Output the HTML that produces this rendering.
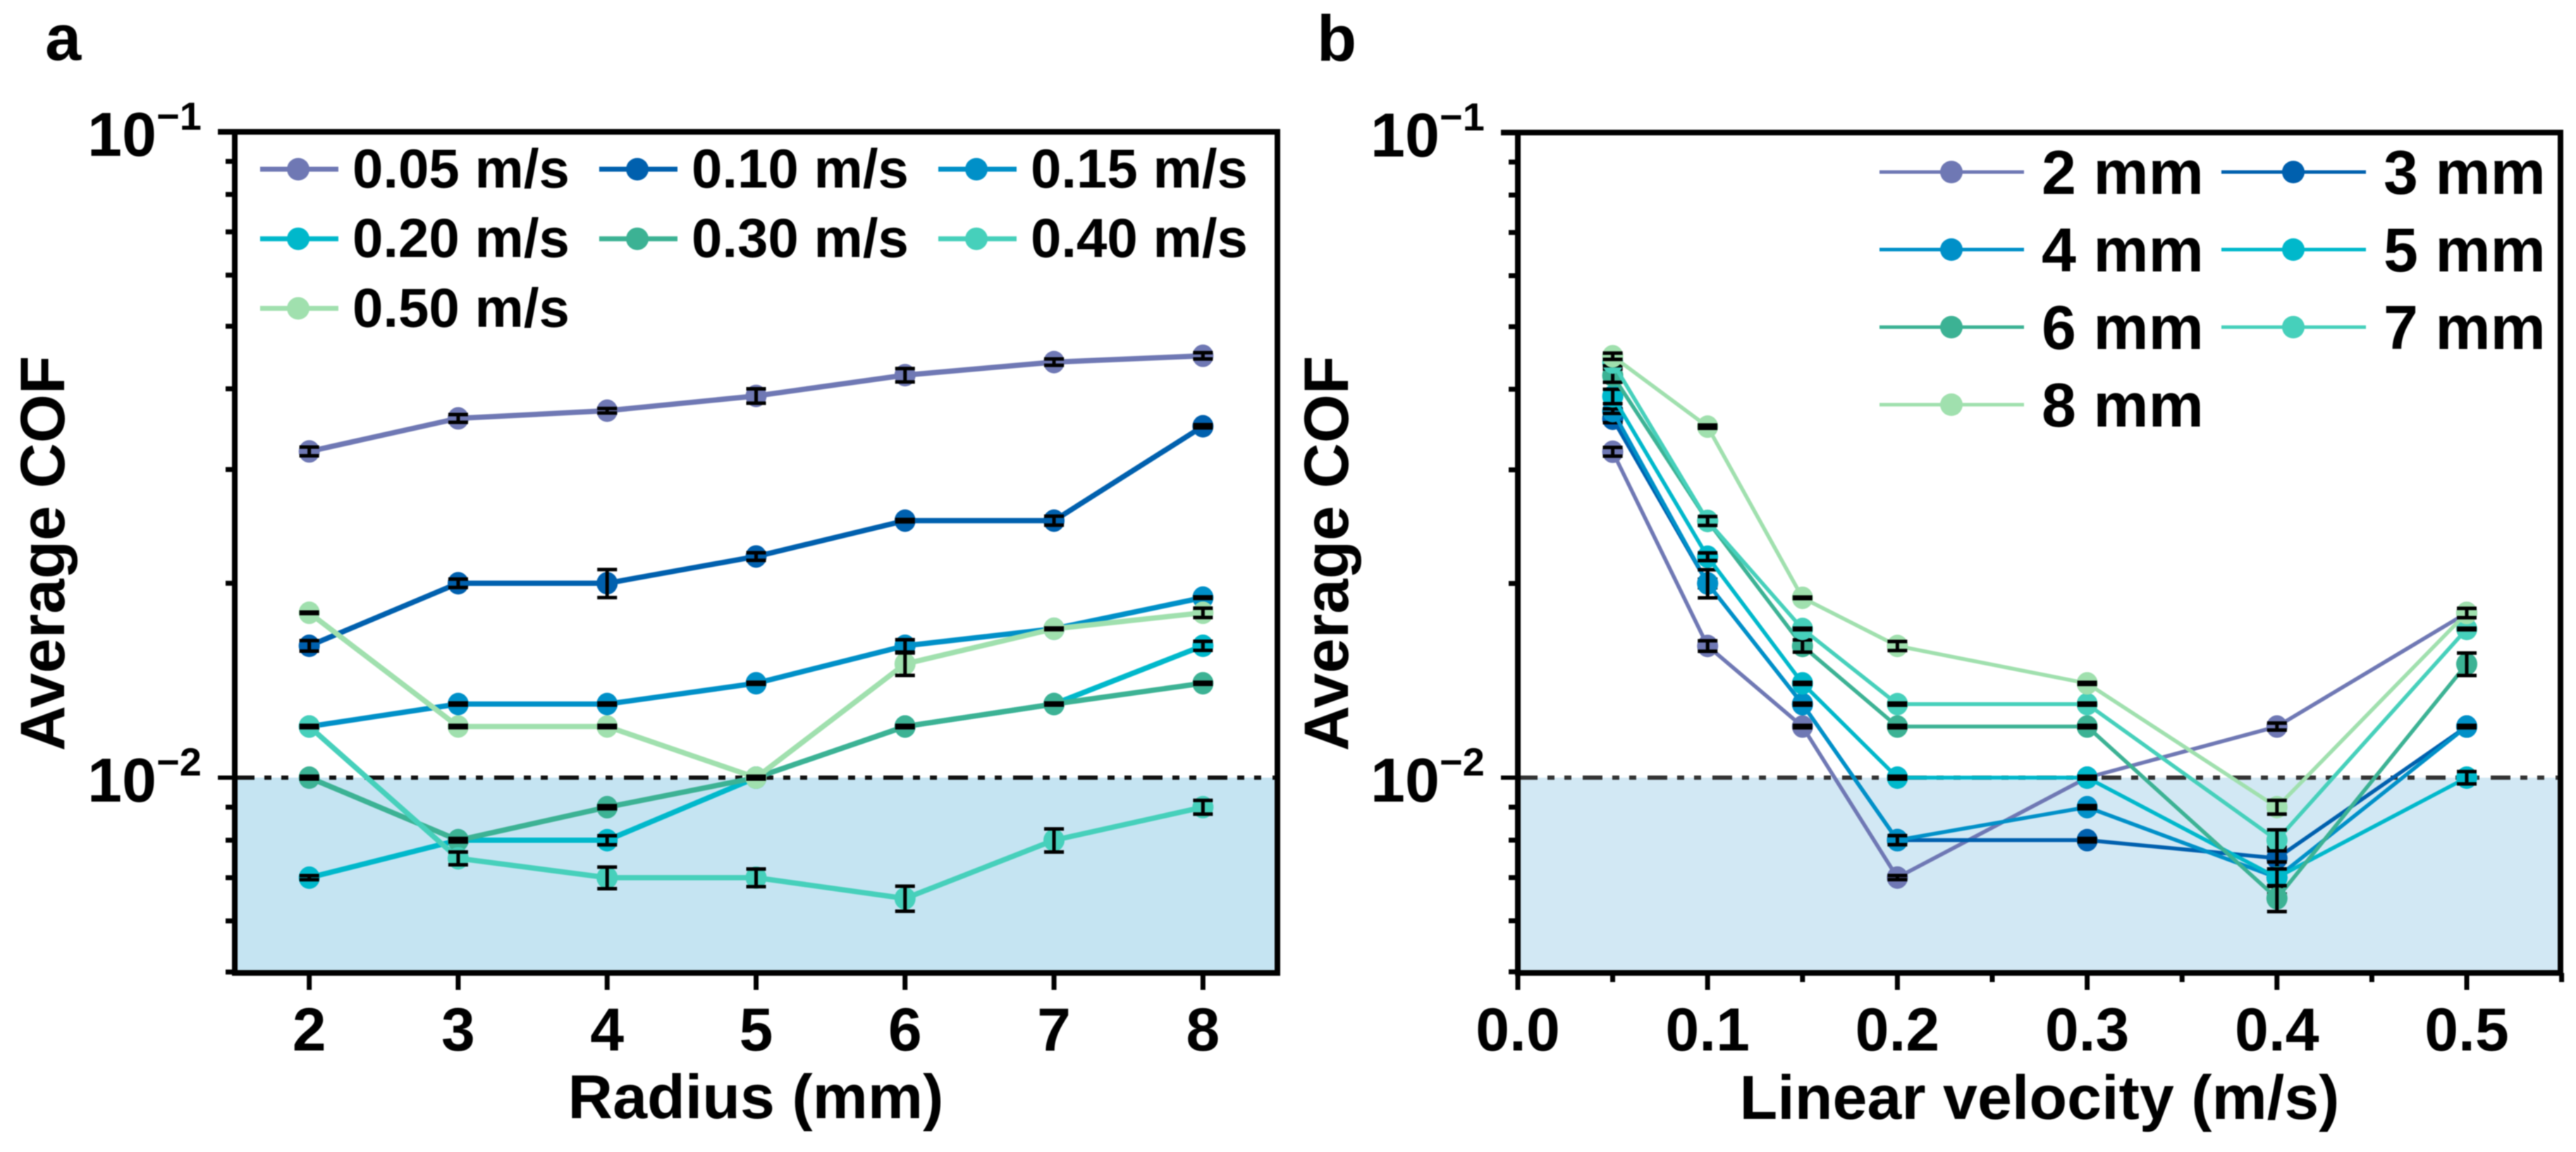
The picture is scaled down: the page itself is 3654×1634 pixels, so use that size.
<!DOCTYPE html>
<html lang="en">
<head>
<meta charset="utf-8">
<title>Average COF vs radius and linear velocity</title>
<style>
html,body{margin:0;padding:0;background:#fff;}
svg{display:block;filter:blur(0.7px);}
text{font-family:"Liberation Sans",Arial,sans-serif;font-weight:700;fill:#000;}
</style>
</head>
<body>
<svg id="figure" xmlns="http://www.w3.org/2000/svg" width="3654" height="1634" viewBox="0 0 3654 1634">
  <rect x="0" y="0" width="3654" height="1634" fill="#ffffff"/>
  <text x="64" y="85" font-size="92">a</text>
  <text x="1868" y="86" font-size="92">b</text>
  <text x="1072" y="1586" font-size="88" text-anchor="middle">Radius (mm)</text>
  <text x="2893" y="1587" font-size="88" text-anchor="middle">Linear velocity (m/s)</text>
  <text transform="translate(91,785) rotate(-90)" font-size="89" text-anchor="middle">Average COF</text>
  <text transform="translate(1912,785) rotate(-90)" font-size="89" text-anchor="middle">Average COF</text>
  <g id="panel-a"></g>
  <g id="panel-b"></g>
</svg>
<script>
// ---- Shared series colours
const seriesColors = ['#6f78b4', '#0060ae', '#0090c8', '#00b8cb', '#3cb294', '#46d0bb', '#a0e0ae'];

// ---- Panel a: COF vs radius, one series per linear velocity
const radiusCategories = [2, 3, 4, 5, 6, 7, 8];
const radiusTickLabels = ['2', '3', '4', '5', '6', '7', '8'];
const velocitySeriesNames = ['0.05 m/s', '0.10 m/s', '0.15 m/s', '0.20 m/s', '0.30 m/s', '0.40 m/s', '0.50 m/s'];
const cofV005 = [0.032, 0.036, 0.037, 0.039, 0.042, 0.044, 0.045];
const cofV010 = [0.016, 0.020, 0.020, 0.022, 0.025, 0.025, 0.035];
const cofV015 = [0.012, 0.013, 0.013, 0.014, 0.016, 0.017, 0.019];
const cofV020 = [0.007, 0.008, 0.008, 0.010, 0.012, 0.013, 0.016];
const cofV030 = [0.010, 0.008, 0.009, 0.010, 0.012, 0.013, 0.014];
const cofV040 = [0.012, 0.0075, 0.007, 0.007, 0.0065, 0.008, 0.009];
const cofV050 = [0.018, 0.012, 0.012, 0.010, 0.015, 0.017, 0.018];
const errV005 = [0.0005, 0.0005, 0.0003, 0.001, 0.001, 0.0005, 0.0005];
const errV010 = [0.0003, 0.0003, 0.001, 0.0003, 0.0001, 0.0004, 0.0002];
const errV015 = [0.00005, 0.00005, 0.00005, 0.00005, 0.00035, 0.00005, 0.00005];
const errV020 = [0.00005, 0.00005, 0.00013, 0.00005, 0.00005, 0.00005, 0.00026];
const errV030 = [0.00005, 0.00005, 0.00005, 0.00005, 0.00005, 0.00005, 0.00005];
const errV040 = [0.00005, 0.00017, 0.00027, 0.00022, 0.00029, 0.00033, 0.00022];
const errV050 = [0.00005, 0.00005, 0.00005, 0.00005, 0.0006, 0.00005, 0.0003];

// ---- Panel b: COF vs linear velocity, one series per radius
const velocityCategories = [0.05, 0.1, 0.15, 0.2, 0.3, 0.4, 0.5];
const velocityMajorTicks = [0, 0.1, 0.2, 0.3, 0.4, 0.5];
const velocityTickLabels = ['0.0', '0.1', '0.2', '0.3', '0.4', '0.5'];
const velocityMinorTicks = [0.05, 0.15, 0.25, 0.35, 0.45, 0.55];
const radiusSeriesNames = ['2 mm', '3 mm', '4 mm', '5 mm', '6 mm', '7 mm', '8 mm'];
const cofR2 = [0.032, 0.016, 0.012, 0.007, 0.010, 0.012, 0.018];
const cofR3 = [0.036, 0.020, 0.013, 0.008, 0.008, 0.0075, 0.012];
const cofR4 = [0.037, 0.020, 0.013, 0.008, 0.009, 0.007, 0.012];
const cofR5 = [0.039, 0.022, 0.014, 0.010, 0.010, 0.007, 0.010];
const cofR6 = [0.042, 0.025, 0.016, 0.012, 0.012, 0.0065, 0.015];
const cofR7 = [0.044, 0.025, 0.017, 0.013, 0.013, 0.008, 0.017];
const cofR8 = [0.045, 0.035, 0.019, 0.016, 0.014, 0.009, 0.018];
const errR2 = [0.0005, 0.0003, 0.00005, 0.00005, 0.00005, 0.00015, 0.00005];
const errR3 = [0.0005, 0.0003, 0.00005, 0.00005, 0.00005, 0.0003, 0.00005];
const errR4 = [0.0003, 0.001, 0.00005, 0.00013, 0.00005, 0.0004, 0.00005];
const errR5 = [0.001, 0.0003, 0.00005, 0.00005, 0.00005, 0.00022, 0.00022];
const errR6 = [0.001, 0.0001, 0.00035, 0.00005, 0.00005, 0.0003, 0.0006];
const errR7 = [0.0005, 0.0004, 0.00005, 0.00005, 0.00005, 0.0003, 0.00005];
const errR8 = [0.0005, 0.0002, 0.00005, 0.00026, 0.00005, 0.00022, 0.0003];

// ---- Shared log axis ticks
const yMajorTicks = [0.1, 0.01];
const yMinorTicks = [0.09, 0.08, 0.07, 0.06, 0.05, 0.04, 0.03, 0.02, 0.009, 0.008, 0.007, 0.006, 0.005];
const yTickExponents = ['\u22121', '\u22122'];
const thresholdValue = 0.01;

const SVG_NS = 'http://www.w3.org/2000/svg';
function make(tag, attrs, parent) {
  const node = document.createElementNS(SVG_NS, tag);
  for (const key in attrs) node.setAttribute(key, attrs[key]);
  parent.appendChild(node);
  return node;
}

function drawPanel(opts) {
  const root = document.getElementById(opts.rootId);
  const L = opts.left, R = opts.right, T = opts.top, B = opts.bottom;
  const xScale = function (v) { return L + (v - opts.xMin) / (opts.xMax - opts.xMin) * (R - L); };
  const yScale = function (v) { return T + (-1 - Math.log10(v)) * opts.decadePx; };

  const fill = make('rect', { x: L, y: yScale(thresholdValue), width: R - L, height: B - yScale(thresholdValue), fill: opts.bandColor }, root);
  
  

  const threshold = make('line', { x1: L, x2: R, y1: yScale(thresholdValue), y2: yScale(thresholdValue), stroke: opts.dashColor, 'stroke-width': 6, 'stroke-dasharray': '28 14 10 14 10 16' }, root);
  
  

  // series lines and markers
  opts.series.forEach(function (values, s) {
    const group = make('g', {}, root);
    
    
    const pts = values.map(function (v, i) { return xScale(opts.categories[i]) + ',' + yScale(v); }).join(' ');
    const line = make('polyline', { points: pts, fill: 'none', stroke: seriesColors[s], 'stroke-width': opts.lineWidth, 'stroke-linejoin': 'round' }, group);
    
    
    values.forEach(function (v, i) {
      const cx = xScale(opts.categories[i]);
      const cy = yScale(v);
      const marker = make('ellipse', { cx: cx, cy: cy, rx: 15, ry: 16, fill: seriesColors[s] }, group);
      
      
      const e = opts.errors[s][i];
      const yTop = yScale(v + e);
      const yBot = yScale(v - e);
      const bar = make('path', {
        d: 'M' + cx + ' ' + yTop + 'V' + yBot + 'M' + (cx - 14) + ' ' + yTop + 'H' + (cx + 14) + 'M' + (cx - 14) + ' ' + yBot + 'H' + (cx + 14),
        fill: 'none', stroke: '#000', 'stroke-width': 5
      }, group);
      
      
    });
  });

  // spines
  const frame = make('rect', { x: L, y: T, width: R - L, height: B - T, fill: 'none', stroke: '#000', 'stroke-width': 8 }, root);
  
  

  // y ticks
  yMajorTicks.forEach(function (v, i) {
    const y = yScale(v);
    const tick = make('line', { x1: L - 24, x2: L, y1: y, y2: y, stroke: '#000', 'stroke-width': i === 0 ? 8 : 6 }, root);
    
    
    const label = make('text', { x: opts.yLabelX, y: y + 34, 'font-size': 88 }, root);
    
    
    const base = make('tspan', {}, label);
    base.textContent = '10';
    const sup = make('tspan', { x: opts.yLabelX + 98, dy: -37, 'font-size': 56 }, label);
    sup.textContent = yTickExponents[i];
  });
  yMinorTicks.forEach(function (v) {
    const y = yScale(v);
    const tick = make('line', { x1: L - 13, x2: L, y1: y, y2: y, stroke: '#000', 'stroke-width': 7 }, root);
    
    
  });

  // x ticks
  opts.xTicks.forEach(function (v, i) {
    const x = xScale(v);
    const tick = make('line', { x1: x, x2: x, y1: B, y2: B + 24, stroke: '#000', 'stroke-width': 7 }, root);
    
    
    const label = make('text', { x: x, y: 1490, 'font-size': 86, 'text-anchor': 'middle' }, root);
    
    
    label.textContent = opts.xTickLabels[i];
  });
  opts.xMinor.forEach(function (v) {
    const x = xScale(v);
    const tick = make('line', { x1: x, x2: x, y1: B, y2: B + 13, stroke: '#000', 'stroke-width': 7 }, root);
    
    
  });

  // legend
  const lg = opts.legend;
  const legend = make('g', {}, root);
  
  
  opts.names.forEach(function (name, s) {
    const col = s % lg.cols;
    const row = Math.floor(s / lg.cols);
    const x0 = lg.x + col * lg.colStep;
    const y0 = lg.y + row * lg.rowStep;
    const entry = make('g', {}, legend);
    
    
    make('line', { x1: x0, x2: x0 + lg.lineLen, y1: y0, y2: y0, stroke: seriesColors[s], 'stroke-width': lg.lineWidth }, entry);
    make('ellipse', { cx: x0 + lg.markerDx, cy: y0, rx: 16, ry: 16, fill: seriesColors[s] }, entry);
    const text = make('text', { x: x0 + lg.textDx, y: y0 + lg.baseDy, 'font-size': lg.fontSize }, entry);
    text.textContent = name;
  });
}

drawPanel({
  rootId: 'panel-a', left: 333, right: 1812, top: 187, bottom: 1380, decadePx: 916,
  xMin: 1.5, xMax: 8.5, categories: radiusCategories,
  series: [cofV005, cofV010, cofV015, cofV020, cofV030, cofV040, cofV050],
  errors: [errV005, errV010, errV015, errV020, errV030, errV040, errV050],
  names: velocitySeriesNames, xTicks: radiusCategories, xTickLabels: radiusTickLabels, xMinor: [],
  lineWidth: 7.5, bandColor: '#c5e4f2', dashColor: '#111111', yLabelX: 124,
  legend: { x: 369, y: 240, cols: 3, colStep: 481, rowStep: 98.7, lineLen: 111, lineWidth: 7, markerDx: 54, textDx: 131, baseDy: 26, fontSize: 78 }
});
drawPanel({
  rootId: 'panel-b', left: 2153, right: 3632, top: 188, bottom: 1380, decadePx: 915,
  xMin: 0, xMax: 0.5494, categories: velocityCategories,
  series: [cofR2, cofR3, cofR4, cofR5, cofR6, cofR7, cofR8],
  errors: [errR2, errR3, errR4, errR5, errR6, errR7, errR8],
  names: radiusSeriesNames, xTicks: velocityMajorTicks, xTickLabels: velocityTickLabels, xMinor: velocityMinorTicks,
  lineWidth: 5.5, bandColor: '#d2e8f4', dashColor: '#333333', yLabelX: 1944,
  legend: { x: 2666, y: 244, cols: 2, colStep: 485, rowStep: 110, lineLen: 205, lineWidth: 5, markerDx: 102, textDx: 230, baseDy: 31, fontSize: 88 }
});
</script>
</body>
</html>
